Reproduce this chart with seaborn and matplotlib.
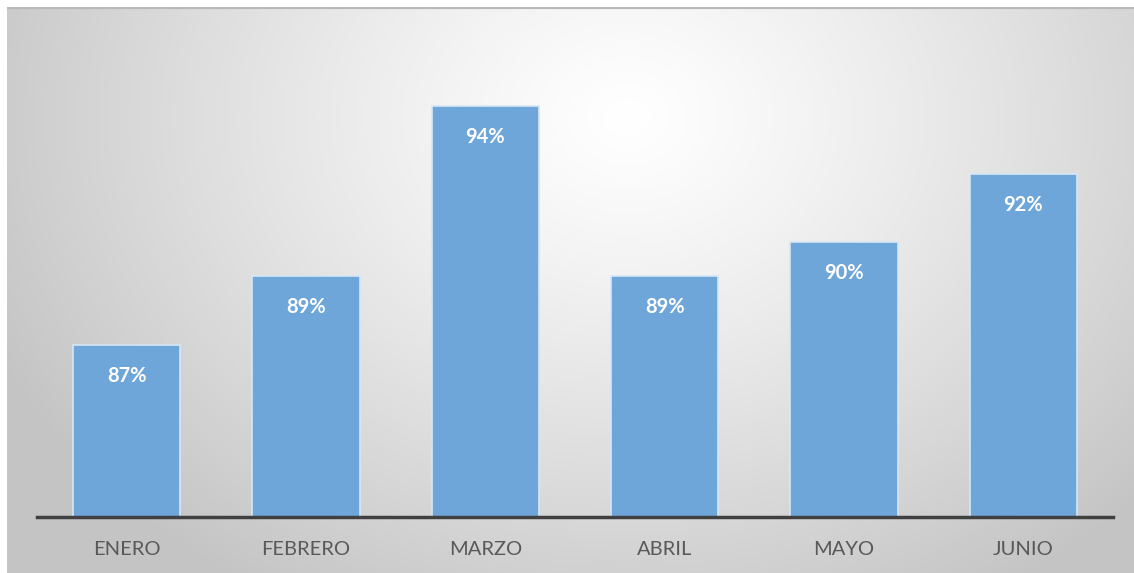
import numpy as np
import pandas as pd
import matplotlib
matplotlib.use("Agg")
import matplotlib.pyplot as plt
import seaborn as sns

meses = ["ENERO", "FEBRERO", "MARZO", "ABRIL", "MAYO", "JUNIO"]
porcentajes = [87, 89, 94, 89, 90, 92]
etiquetas = ["87%", "89%", "94%", "89%", "90%", "92%"]

W, H = 1134, 573

sns.set_style("white")
plt.rcParams["font.family"] = ["Lato", "DejaVu Sans"]

fig = plt.figure(figsize=(W / 100, H / 100), dpi=100)
fig.patch.set_facecolor("white")

# fondo con degradado radial (estilo Excel)
bg = fig.add_axes([7 / W, 0, 1 - 7 / W, 1 - 7 / H])
yy, xx = np.mgrid[0:566, 0:1127]
d = np.sqrt(((xx - 620) / 700.0) ** 2 + ((yy - 110) / 560.0) ** 2)
d = np.clip(d, 0, 1)
g = 1.0 - 0.23 * d ** 1.2
bg.imshow(np.dstack([g, g, g]), aspect="auto", extent=[0, 1, 0, 1], origin="upper")
bg.axhline(1, color="#b8b8b8", lw=3)
bg.set_axis_off()

ax = fig.add_axes([37 / W, (H - 517) / H, (1113 - 37) / W, (517 - 41) / H])
ax.patch.set_alpha(0)

df = pd.DataFrame({"mes": meses, "valor": porcentajes})
sns.barplot(data=df, x="mes", y="valor", color="#6ea6d9", saturation=1,
            width=0.6, edgecolor="#d6e6f5", linewidth=1.2, ax=ax)

ax.set_ylim(81.95, 95.9)
ax.set_xlim(-0.5, 5.5)
ax.set_xlabel("")
ax.set_ylabel("")
ax.set_yticks([])
for s in ["top", "left", "right"]:
    ax.spines[s].set_visible(False)
ax.spines["bottom"].set_color("#404040")
ax.spines["bottom"].set_linewidth(2.5)
ax.tick_params(axis="x", length=0, pad=17, labelsize=14.5, labelcolor="#595959")

for i, (v, t) in enumerate(zip(porcentajes, etiquetas)):
    ax.annotate(t, (i, v), xytext=(0, -15), textcoords="offset points",
                ha="center", va="top", color="white", fontsize=14.5,
                fontweight="bold")

fig.savefig("out.png", dpi=100)
